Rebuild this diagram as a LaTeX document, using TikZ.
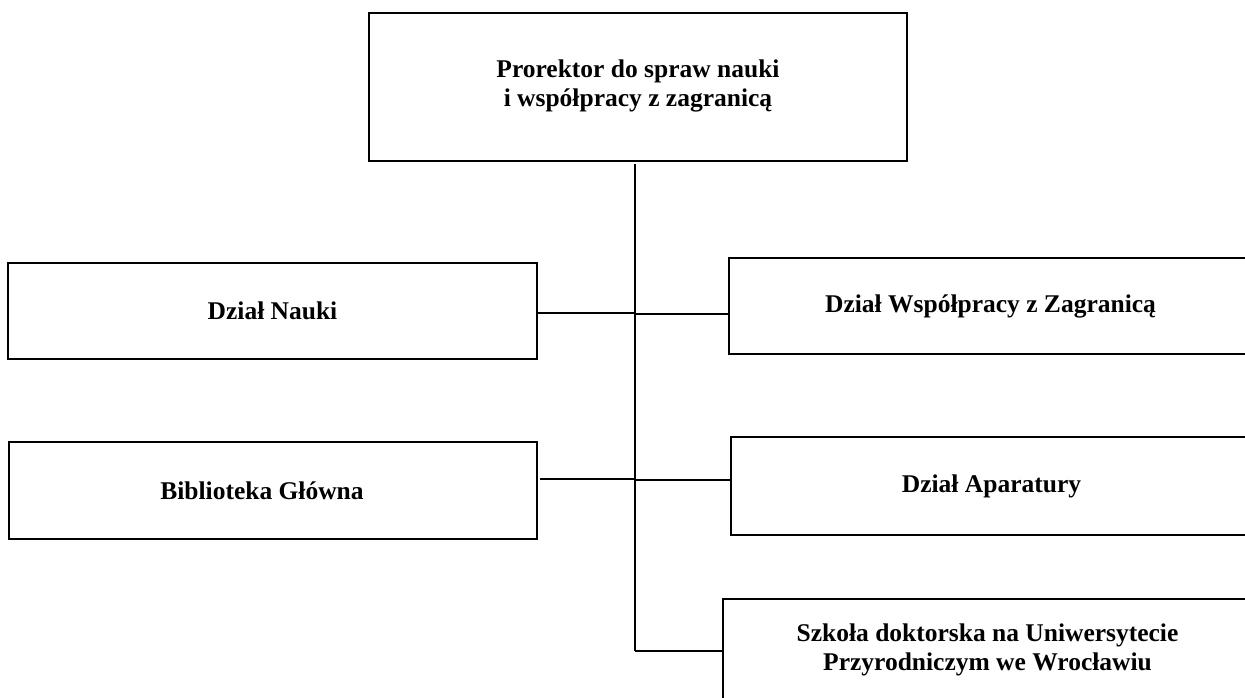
\documentclass[tikz,border=0pt]{standalone}
\usepackage{fontspec}
\setmainfont{Liberation Serif}
\begin{document}
\begin{tikzpicture}[x=1pt,y=-1pt,
  unit/.style={draw=black, line width=1.6pt, rectangle, inner sep=0pt, align=center,
    font=\fontsize{25.5}{29}\selectfont\bfseries},
  link/.style={draw=black, line width=1.5pt}]
\useasboundingbox (0,0) rectangle (1245,697);
\clip (0,0) rectangle (1245,697);
\node[unit, minimum width=538pt, minimum height=148pt] (top) at (638,87)
  {Prorektor do spraw nauki\\i współpracy z zagranicą\\[-22pt]\mbox{}};
\node[unit, minimum width=529pt, minimum height=96pt] (nauki) at (272.5,311)
  {Dział Nauki};
\node[unit, minimum width=523pt, minimum height=96pt] (wsp) at (990.5,306)
  {Dział Współpracy z Zagranicą};
\node[unit, minimum width=528pt, minimum height=97pt] (bib) at (273,490.5)
  {\hspace*{-22pt}Biblioteka Główna};
\node[unit, minimum width=521pt, minimum height=98pt] (apar) at (991.5,486)
  {Dział Aparatury};
\node[unit, minimum width=529pt, minimum height=102pt] (szk) at (987.5,650)
  {Szkoła doktorska na Uniwersytecie\\Przyrodniczym we Wrocławiu};
\coordinate (s0) at (635,164);
\coordinate (s1) at (635,651);
\draw[link] (s0) -- (s1);
\draw[link] (nauki.east |- 0,313) -- (s0 |- 0,313);
\draw[link] (s0 |- 0,314) -- (wsp.west |- 0,314);
\draw[link] ([xshift=2pt]bib.east |- 0,479) -- (s0 |- 0,479);
\draw[link] (s0 |- 0,480) -- (apar.west |- 0,480);
\draw[link] (s1) -- (s1 -| szk.west);
\end{tikzpicture}
\end{document}
